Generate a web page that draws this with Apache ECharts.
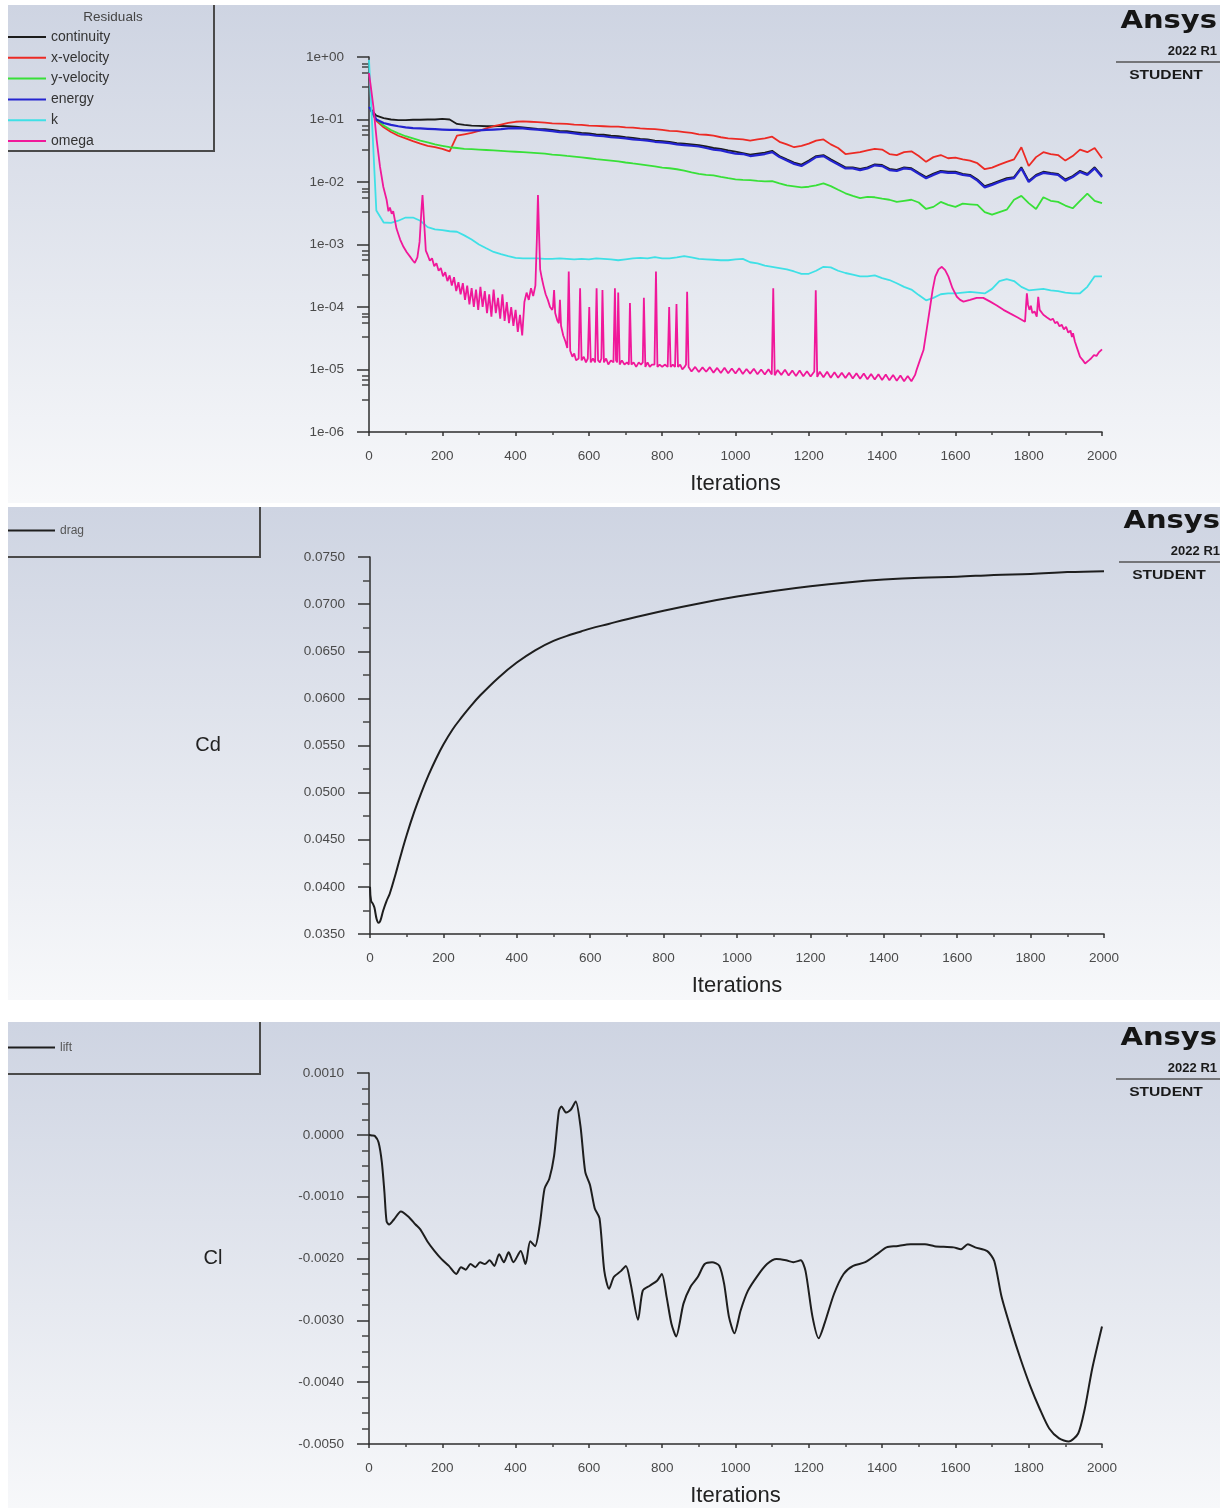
<!DOCTYPE html>
<html>
<head>
<meta charset="utf-8">
<style>
html,body{margin:0;padding:0;background:#ffffff;}
#c{width:1220px;height:1508px;}
</style>
<script src="https://cdn.jsdelivr.net/npm/echarts@6/dist/echarts.min.js"></script>
</head>
<body>
<div id="c"></div>
<script>
// ---------------- DATA ----------------
// residual sampling grid (iterations, every 20)
const residualIterations = Array.from({length: 101}, (_, i) => i * 20);

const continuity = [0.16,0.115,0.105,0.1,0.098,0.098,0.099,0.099,0.1,0.1,
0.102,0.1,0.085,0.082,0.08,0.079,0.078,0.078,0.079,0.078,
0.077,0.075,0.073,0.071,0.07,0.068,0.066,0.065,0.063,0.061,
0.06,0.058,0.057,0.055,0.054,0.052,0.051,0.049,0.048,0.046,
0.045,0.044,0.042,0.041,0.04,0.039,0.037,0.035,0.034,0.032,
0.0305,0.029,0.0275,0.0285,0.0295,0.0315,0.026,0.023,0.0205,0.019,
0.022,0.026,0.027,0.023,0.02,0.0172,0.0172,0.0162,0.0172,0.0192,
0.0187,0.0162,0.0156,0.0172,0.0166,0.0141,0.012,0.0136,0.0151,0.0146,
0.0146,0.0135,0.013,0.011,0.0086,0.0094,0.0104,0.0115,0.012,0.0172,
0.0104,0.013,0.0146,0.014,0.0135,0.011,0.0125,0.0151,0.0135,0.0172,0.0125];

const xVelocity = [0.16,0.095,0.075,0.063,0.055,0.05,0.045,0.041,0.038,0.036,
0.034,0.031,0.055,0.058,0.061,0.066,0.072,0.078,0.083,0.088,
0.092,0.093,0.092,0.091,0.089,0.087,0.086,0.085,0.083,0.082,
0.08,0.079,0.078,0.077,0.077,0.075,0.074,0.072,0.071,0.07,
0.068,0.066,0.065,0.063,0.061,0.058,0.057,0.055,0.052,0.05,
0.049,0.048,0.046,0.048,0.05,0.053,0.044,0.04,0.036,0.038,
0.041,0.046,0.048,0.04,0.035,0.028,0.029,0.03,0.032,0.034,
0.033,0.028,0.027,0.03,0.031,0.026,0.021,0.025,0.027,0.024,
0.0245,0.023,0.022,0.02,0.016,0.017,0.019,0.021,0.023,0.036,
0.018,0.025,0.03,0.028,0.027,0.022,0.026,0.033,0.03,0.035,0.024];

const yVelocity = [0.16,0.1,0.08,0.068,0.06,0.054,0.05,0.046,0.043,0.04,
0.038,0.036,0.035,0.034,0.0335,0.033,0.0325,0.032,0.0315,0.031,
0.0305,0.03,0.0295,0.029,0.0285,0.0275,0.027,0.0262,0.0255,0.0248,
0.024,0.0232,0.0226,0.022,0.0213,0.0205,0.0198,0.0192,0.0185,0.0178,
0.017,0.0166,0.016,0.0152,0.0142,0.0135,0.013,0.0128,0.0121,0.0115,
0.011,0.0108,0.0107,0.0104,0.0102,0.0103,0.0095,0.0088,0.0085,0.0082,
0.0084,0.0088,0.0095,0.0086,0.0075,0.0066,0.006,0.0055,0.0058,0.0057,
0.0054,0.0052,0.0048,0.005,0.0052,0.0047,0.0037,0.004,0.0048,0.0043,
0.004,0.0045,0.0044,0.0043,0.0033,0.003,0.0033,0.0036,0.0052,0.006,
0.0046,0.0037,0.0057,0.005,0.0048,0.0042,0.0038,0.005,0.0065,0.005,0.0046];

const energy = [0.16,0.1,0.088,0.082,0.078,0.075,0.073,0.072,0.071,0.07,
0.069,0.068,0.068,0.067,0.067,0.067,0.068,0.069,0.07,0.072,
0.073,0.072,0.07,0.069,0.067,0.065,0.063,0.062,0.06,0.058,
0.057,0.055,0.054,0.052,0.051,0.05,0.048,0.047,0.046,0.044,
0.043,0.042,0.04,0.039,0.038,0.037,0.035,0.033,0.032,0.03,
0.0285,0.028,0.026,0.027,0.028,0.03,0.025,0.022,0.0195,0.018,
0.021,0.025,0.026,0.022,0.019,0.0165,0.0165,0.0155,0.0165,0.0185,
0.018,0.0155,0.015,0.0165,0.016,0.0135,0.0115,0.013,0.0145,0.014,
0.014,0.013,0.0125,0.0105,0.0082,0.009,0.01,0.011,0.0115,0.0165,
0.01,0.0125,0.014,0.0135,0.013,0.0105,0.012,0.0145,0.013,0.0165,0.012];

const kResidual = [0.9,0.0035,0.00225,0.00222,0.0024,0.0027,0.0027,0.0024,0.0019,0.00175,
0.0017,0.00163,0.0016,0.0014,0.0012,0.001,0.00087,0.00076,0.0007,0.00065,
0.00061,0.0006,0.0006,0.0006,0.00059,0.00059,0.0006,0.00059,0.00058,0.00059,
0.00058,0.0006,0.00059,0.00058,0.00056,0.00058,0.0006,0.00061,0.0006,0.00063,
0.0006,0.0006,0.00062,0.00065,0.00062,0.00059,0.00058,0.00057,0.00056,0.00056,
0.00058,0.00059,0.00052,0.0005,0.00046,0.00044,0.00042,0.0004,0.00037,0.00034,
0.00034,0.00038,0.00044,0.00043,0.00038,0.00035,0.00033,0.00031,0.00031,0.00032,
0.00029,0.00027,0.00024,0.00021,0.00019,0.000155,0.000128,0.00014,0.00016,0.000165,
0.000165,0.00017,0.000175,0.00017,0.000165,0.000195,0.00026,0.00028,0.00026,0.00021,
0.000185,0.00019,0.000195,0.000185,0.00018,0.00017,0.000165,0.000166,0.00021,0.00031,0.00031];

const omegaIterations = [0,6,12,21,30,39,48,53,57,62,66,75,85,94,103,112,120,125,132,138,143,146,149,152,155,160,
166,172,178,184,190,196,202,208,214,220,226,232,238,244,250,256,262,268,274,280,286,292,298,304,310,316,322,328,334,340,346,352,358,364,370,376,382,388,394,400,406,412,418,424,430,436,442,448,454,458,461,464,467,472,
476,482,488,494,500,502,505,508,514,518,521,524,530,536,541,545,549,555,560,565,572,576,580,586,592,597,601,605,611,617,621,625,630,634,637,641,647,653,660,667,671,674,677,680,684,690,697,704,709,712,716,722,729,736,742,747,750,754,760,766,772,779,783,787,793,800,807,815,819,823,829,835,839,843,849,855,861,865,868,872,
880,890,900,910,920,930,940,950,960,970,980,990,1000,1010,1020,1030,1040,1050,1060,1070,1080,1090,1099,1103,1107,1115,1125,1135,1145,1155,1165,1175,1185,1195,1205,1215,1219,1223,1230,1240,1250,1260,1270,1280,1290,1300,1310,1320,1330,1340,1350,1360,1370,1380,1390,1400,1410,1420,1430,1440,1450,1460,1470,1480,1490,
1494,1503,1513,1522,1531,1538,1545,1554,1563,1572,1581,1592,1604,1613,1622,1640,1658,1676,1695,1713,1731,1749,1770,1790,1793,1795,1798,1802,1806,1810,1816,1822,1826,1830,1835,1840,1845,1850,1855,1860,1866,1872,1878,1884,1890,1896,1902,1908,1914,1918,1921,1926,1932,1940,1948,1954,1958,1964,1970,1978,1985,1992,2000];

const omegaResidual = [0.55,0.3,0.16,0.047,0.0176,0.0084,0.0052,0.0034,0.0039,0.0031,0.0034,0.0018,0.0012,0.00092,0.00075,0.00064,0.00055,0.00051,0.00062,0.0011,0.0035,0.0062,0.0058,0.0016,0.0008,0.00068,
0.00055,0.0006,0.00045,0.0005,0.00038,0.00042,0.00031,0.00036,0.00026,0.00032,0.00022,0.0003,0.00018,0.00025,0.00016,0.00024,0.00013,0.00022,0.00011,0.0002,0.0001,0.00019,0.00009,0.00021,0.0001,0.00018,0.00008,0.00016,0.00007,0.00019,0.00008,0.00014,0.000065,0.00016,0.00006,0.00012,0.000055,0.0001,0.00005,0.00009,0.00004,0.000075,0.000035,0.00012,0.00017,0.00013,0.0002,0.00015,0.00022,0.0012,0.0062,0.0015,0.0004,0.00028,
0.00022,0.00016,0.00013,0.0001,0.00009,0.0001,0.000187,0.00008,0.00006,0.000055,0.00013,0.00005,0.000035,0.000028,0.000022,0.00037,0.00002,0.000016,0.000018,0.000014,0.000015,0.0002,0.000014,0.000016,0.000013,0.000015,0.0001,0.000013,0.000015,0.000013,0.0002,0.000014,0.000013,0.000015,0.000187,0.000013,0.000015,0.000012,0.000014,0.000013,0.0002,0.000014,0.000013,0.00017,0.000012,0.000014,0.000012,0.000013,0.000012,0.000116,0.000012,0.000013,0.000011,0.000013,0.000012,0.000013,0.00014,0.000011,0.000013,0.000011,0.000012,0.000012,0.00037,0.000011,0.000012,0.000011,0.000012,0.000011,0.0001,0.000011,0.000012,0.000011,0.000112,0.000011,0.000012,0.00001,0.000011,0.000012,0.000176,0.000011,
0.0000093,0.000011,0.0000091,0.0000108,0.0000092,0.0000109,0.0000089,0.0000106,0.0000088,0.0000107,0.0000087,0.0000104,0.0000086,0.0000105,0.0000085,0.0000102,0.0000086,0.0000103,0.0000084,0.00001,0.0000083,0.0000101,0.0000083,0.0002,0.0000081,0.0000098,0.0000082,0.0000099,0.000008,0.0000096,0.0000079,0.0000096,0.0000078,0.0000094,0.0000077,0.0000093,0.000185,0.0000076,0.0000092,0.0000075,0.0000092,0.0000074,0.000009,0.0000074,0.0000089,0.0000073,0.0000089,0.0000072,0.0000087,0.0000071,0.0000086,0.000007,0.0000085,0.0000069,0.0000084,0.0000068,0.0000083,0.0000067,0.0000082,0.0000066,0.000008,0.0000065,0.0000079,0.0000065,0.0000082,
0.0000098,0.000014,0.0000205,0.000045,0.0001,0.00019,0.000306,0.0004,0.00044,0.00039,0.000306,0.0002,0.000146,0.00013,0.000122,0.00013,0.00014,0.00014,0.000122,0.000106,0.00009,0.000079,0.000068,0.000058,0.00011,0.000166,0.00011,0.00009,0.000105,0.00008,0.000085,0.00007,0.000146,0.00009,0.000085,0.000075,0.000078,0.000068,0.00007,0.000062,0.000065,0.000055,0.000058,0.000049,0.000052,0.000044,0.000048,0.000039,0.000042,0.000033,0.000038,0.000028,0.000022,0.000016,0.000014,0.0000125,0.000013,0.000014,0.000015,0.000017,0.0000165,0.000019,0.000021];

// drag coefficient history
const dragIterations = [0,3,8,12,18,23,28,36,45,54,70,82,100,120,140,160,180,200,225,250,275,300,350,400,450,500,550,575,600,650,700,800,900,1000,1100,1200,1300,1400,1500,1600,1700,1800,1900,2000];
const dragCd = [0.0400,0.0385,0.0382,0.0378,0.0366,0.0362,0.0364,0.0375,0.0385,0.0393,0.0414,0.0431,0.0455,0.0479,0.0500,0.0519,0.0536,0.0551,0.0567,0.0580,0.0592,0.0603,0.0622,0.0638,0.0651,0.0661,0.0668,0.0671,0.0674,0.0679,0.0684,0.0693,0.0701,0.0708,0.0714,0.0719,0.0723,0.0726,0.0728,0.0729,0.0731,0.0732,0.0734,0.0735];

// lift coefficient history
const liftIterations = [0,8,16,26,35,42,48,55,68,87,107,127,140,159,179,198,218,238,251,264,277,290,303,316,329,342,355,368,381,394,414,427,440,453,466,479,492,505,518,525,538,551,564,577,590,603,616,629,642,655,668,688,701,714,734,747,766,786,799,812,825,838,858,877,897,916,936,956,969,982,997,1014,1034,1060,1086,1112,1138,1158,1178,1191,1210,1227,1243,1269,1295,1321,1354,1386,1412,1439,1478,1517,1543,1595,1615,1634,1654,1687,1706,1726,1752,1778,1804,1830,1856,1883,1909,1935,1953,1973,2000];
const liftCl = [0.00000,-0.00001,-0.00002,-0.00012,-0.00044,-0.00092,-0.00140,-0.00145,-0.00137,-0.00124,-0.00132,-0.00145,-0.00153,-0.00172,-0.00188,-0.00201,-0.00212,-0.00225,-0.00214,-0.00218,-0.00209,-0.00214,-0.00206,-0.00209,-0.00203,-0.00212,-0.00193,-0.00206,-0.00190,-0.00206,-0.00188,-0.00209,-0.00172,-0.00180,-0.00145,-0.00087,-0.00071,-0.00034,0.00038,0.00046,0.00036,0.00041,0.00054,0.00014,-0.00060,-0.00081,-0.00119,-0.00135,-0.00220,-0.00249,-0.00230,-0.00220,-0.00212,-0.00241,-0.00299,-0.00252,-0.00244,-0.00236,-0.00225,-0.00262,-0.00305,-0.00326,-0.00273,-0.00246,-0.00230,-0.00209,-0.00206,-0.00212,-0.00241,-0.00294,-0.00321,-0.00284,-0.00252,-0.00228,-0.00209,-0.00201,-0.00203,-0.00206,-0.00203,-0.00220,-0.00294,-0.00329,-0.00305,-0.00257,-0.00225,-0.00212,-0.00206,-0.00193,-0.00182,-0.00180,-0.00177,-0.00177,-0.00180,-0.00182,-0.00185,-0.00177,-0.00182,-0.00188,-0.00204,-0.00262,-0.00315,-0.00363,-0.00406,-0.00443,-0.00475,-0.00491,-0.00496,-0.00483,-0.00443,-0.00379,-0.00310];

const xTickStep = 200;
// ---------------- CHART ----------------
const FONT = "'Liberation Sans', Arial, sans-serif";
const chart = echarts.init(document.getElementById('c'), null, {renderer: 'canvas', width: 1220, height: 1508});

const pair = (xs, ys) => xs.map((x, i) => [x, ys[i]]);

const panels = [
  {y: 5, h: 498, legendW: 206, legendH: 146},
  {y: 507, h: 493, legendW: 252, legendH: 50},
  {y: 1022, h: 486, legendW: 252, legendH: 52}
];
const logoPos = [{ox: 0, oy: 0}, {ox: 3, oy: 500}, {ox: 0, oy: 1017}];

const graphics = [];
panels.forEach(p => {
  graphics.push({
    type: 'rect', z: -100, silent: true,
    shape: {x: 8, y: p.y, width: 1212, height: p.h},
    style: {fill: new echarts.graphic.LinearGradient(0, 0, 0, 1, [
      {offset: 0, color: '#ced4e2'}, {offset: 1, color: '#f7f8fa'}])}
  });
  graphics.push({
    type: 'polyline', z: 10, silent: true,
    shape: {points: [[8, p.y + p.legendH], [8 + p.legendW, p.y + p.legendH], [8 + p.legendW, p.y]]},
    style: {stroke: '#4a4a4a', lineWidth: 2, fill: null}
  });
});
logoPos.forEach(l => {
  graphics.push({type: 'text', z: 10, silent: true, x: 1217 + l.ox, y: 21 + l.oy, scaleX: 1.16,
    style: {text: 'Ansys', font: "bold 25px 'DejaVu Sans', sans-serif", fill: '#151515', align: 'right', verticalAlign: 'middle'}});
  graphics.push({type: 'text', z: 10, silent: true, x: 1217 + l.ox, y: 51 + l.oy,
    style: {text: '2022 R1', font: "bold 13px 'Liberation Sans', Arial, sans-serif", fill: '#1a1a1a', align: 'right', verticalAlign: 'middle'}});
  graphics.push({type: 'line', z: 10, silent: true,
    shape: {x1: 1116 + l.ox, y1: 62 + l.oy, x2: 1220, y2: 62 + l.oy},
    style: {stroke: '#555', lineWidth: 1.5}});
  graphics.push({type: 'text', z: 10, silent: true, x: 1166 + l.ox, y: 75 + l.oy, scaleX: 1.2,
    style: {text: 'STUDENT', font: "bold 13px 'Liberation Sans', Arial, sans-serif", fill: '#1a1a1a', align: 'center', verticalAlign: 'middle'}});
});

// minor tick positions of the log axis (in decades)
const minorLogTicks = [];
for (let n = -6; n < 0; n++) {
  [0.1, 0.16, 0.25, 0.48].forEach(f => minorLogTicks.push(n + 1 - f));
}

const axisLineStyle = {color: '#2e2e2e', width: 1.5};
const labelStyle = {fontSize: 13.5, color: '#4a4a4a', fontFamily: FONT};

function xAxisFor(gi) {
  return {
    gridIndex: gi, type: 'value', min: 0, max: 2000, interval: xTickStep,
    name: 'Iterations', nameLocation: 'middle', nameGap: 41,
    nameTextStyle: {fontSize: 22, color: '#222', fontFamily: FONT},
    axisLine: {onZero: false, lineStyle: axisLineStyle},
    axisTick: {length: 4, lineStyle: {color: '#333', width: 1.5}},
    minorTick: {show: true, splitNumber: 2, length: 3, lineStyle: {color: '#444', width: 1.5}},
    axisLabel: Object.assign({margin: 17, formatter: v => String(v)}, labelStyle),
    splitLine: {show: false}, minorSplitLine: {show: false}
  };
}

const option = {
  animation: false,
  backgroundColor: '#ffffff',
  title: {text: 'Residuals', left: 108, top: 5, textAlign: 'center',
    textStyle: {fontSize: 13.5, fontWeight: 'normal', color: '#444', fontFamily: FONT}},
  legend: [
    {data: ['continuity', 'x-velocity', 'y-velocity', 'energy', 'k', 'omega'],
     orient: 'vertical', left: 8, top: 30, padding: 0, itemWidth: 38, itemHeight: 2, itemGap: 6.8,
     icon: 'rect', selectedMode: false,
     textStyle: {fontSize: 14, color: '#333', fontFamily: FONT, lineHeight: 14}},
    {data: ['drag'], orient: 'vertical', left: 8, top: 524, padding: 0, itemWidth: 47, itemHeight: 2,
     icon: 'rect', selectedMode: false,
     textStyle: {fontSize: 12, color: '#555', fontFamily: FONT, lineHeight: 13}},
    {data: ['lift'], orient: 'vertical', left: 8, top: 1041, padding: 0, itemWidth: 47, itemHeight: 2,
     icon: 'rect', selectedMode: false,
     textStyle: {fontSize: 12, color: '#555', fontFamily: FONT, lineHeight: 13}}
  ],
  grid: [
    {left: 369, top: 57, width: 733, height: 375, containLabel: false},
    {left: 370, top: 557, width: 734, height: 377, containLabel: false},
    {left: 369, top: 1073, width: 733, height: 376, containLabel: false}
  ],
  xAxis: [xAxisFor(0), xAxisFor(1), xAxisFor(2)],
  yAxis: [
    {gridIndex: 0, type: 'log', logBase: 10, min: 1e-6, max: 1, splitNumber: 6, position: 'left',
     axisLine: {show: true, onZero: false, lineStyle: axisLineStyle},
     axisTick: {show: true, length: 12, lineStyle: {color: '#333', width: 1.5}},
     axisLabel: Object.assign({margin: 25, formatter: v => {
       const e = Math.round(Math.log10(v));
       return '1e' + (e < 0 ? '-' : '+') + String(Math.abs(e)).padStart(2, '0');
     }}, labelStyle),
     splitLine: {show: false}},
    {gridIndex: 1, type: 'value', min: 0.035, max: 0.075, interval: 0.005, position: 'left',
     name: 'Cd', nameLocation: 'middle', nameRotate: 0, nameGap: 162,
     nameTextStyle: {fontSize: 20, color: '#222', fontFamily: FONT, align: 'center', verticalAlign: 'middle'},
     axisLine: {show: true, onZero: false, lineStyle: axisLineStyle},
     axisTick: {show: true, length: 12, lineStyle: {color: '#333', width: 1.5}},
     minorTick: {show: true, splitNumber: 2, length: 7, lineStyle: {color: '#444', width: 1.5}},
     axisLabel: Object.assign({margin: 25, formatter: v => v.toFixed(4)}, labelStyle),
     splitLine: {show: false}, minorSplitLine: {show: false}},
    {gridIndex: 2, type: 'value', min: -0.005, max: 0.001, interval: 0.001, position: 'left',
     name: 'Cl', nameLocation: 'middle', nameRotate: 0, nameGap: 156,
     nameTextStyle: {fontSize: 20, color: '#222', fontFamily: FONT, align: 'center', verticalAlign: 'middle'},
     axisLine: {show: true, onZero: false, lineStyle: axisLineStyle},
     axisTick: {show: true, length: 12, lineStyle: {color: '#333', width: 1.5}},
     minorTick: {show: true, splitNumber: 4, length: 7, lineStyle: {color: '#444', width: 1.5}},
     axisLabel: Object.assign({margin: 25, formatter: v => (Math.abs(v) < 1e-12 ? 0 : v).toFixed(4)}, labelStyle),
     splitLine: {show: false}, minorSplitLine: {show: false}},
    {gridIndex: 0, type: 'value', min: -6, max: 0, position: 'left', offset: 0,
     axisLine: {show: false, onZero: false}, axisLabel: {show: false}, splitLine: {show: false},
     axisTick: {show: true, length: 7, customValues: minorLogTicks, lineStyle: {color: '#444', width: 1.5}}}
  ],
  graphic: graphics,
  series: [
    {name: 'continuity', type: 'line', xAxisIndex: 0, yAxisIndex: 0, showSymbol: false, symbol: 'none',
     color: '#1c1c1c', lineStyle: {width: 1.8}, data: pair(residualIterations, continuity)},
    {name: 'x-velocity', type: 'line', xAxisIndex: 0, yAxisIndex: 0, showSymbol: false, symbol: 'none',
     color: '#ec2a24', lineStyle: {width: 1.8}, data: pair(residualIterations, xVelocity)},
    {name: 'y-velocity', type: 'line', xAxisIndex: 0, yAxisIndex: 0, showSymbol: false, symbol: 'none',
     color: '#38e038', lineStyle: {width: 1.8}, data: pair(residualIterations, yVelocity)},
    {name: 'energy', type: 'line', xAxisIndex: 0, yAxisIndex: 0, showSymbol: false, symbol: 'none',
     color: '#2424d0', lineStyle: {width: 2.2}, data: pair(residualIterations, energy)},
    {name: 'k', type: 'line', xAxisIndex: 0, yAxisIndex: 0, showSymbol: false, symbol: 'none',
     color: '#3fe0e6', lineStyle: {width: 1.8}, data: pair(residualIterations, kResidual)},
    {name: 'omega', type: 'line', xAxisIndex: 0, yAxisIndex: 0, showSymbol: false, symbol: 'none',
     color: '#f0189a', lineStyle: {width: 1.8}, data: pair(omegaIterations, omegaResidual)},
    {name: 'drag', type: 'line', xAxisIndex: 1, yAxisIndex: 1, showSymbol: false, symbol: 'none', smooth: 0.4,
     color: '#1e1e1e', lineStyle: {width: 2}, data: pair(dragIterations, dragCd)},
    {name: 'lift', type: 'line', xAxisIndex: 2, yAxisIndex: 2, showSymbol: false, symbol: 'none', smooth: 0.25,
     color: '#1e1e1e', lineStyle: {width: 2}, data: pair(liftIterations, liftCl)}
  ]
};
chart.setOption(option);
</script>
</body>
</html>
